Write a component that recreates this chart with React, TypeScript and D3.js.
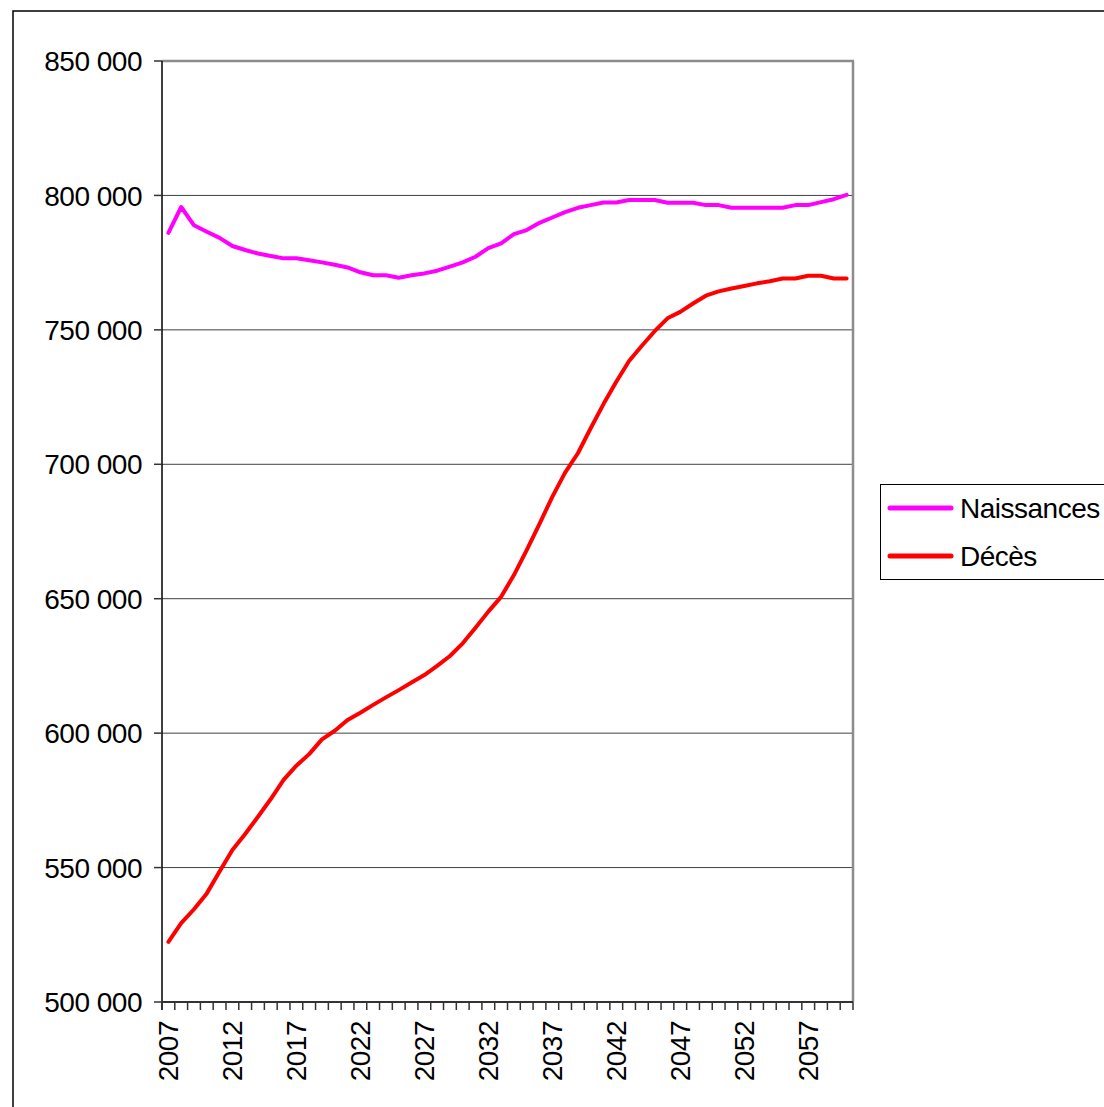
import React from "react";
import * as d3 from "d3";

// années 2007 → 2060
const years = d3.range(2007, 2061);

// Naissances (projection)
const naissances = [
  786100, 795700, 788900, 786500, 784200, 781200, 779700, 778400, 777500, 776600,
  776600, 775900, 775100, 774200, 773200, 771400, 770300, 770300, 769400, 770300,
  771000, 772000, 773500, 775100, 777200, 780400, 782200, 785600, 787100, 789800,
  791800, 793800, 795400, 796400, 797400, 797400, 798300, 798300, 798300, 797300,
  797300, 797300, 796400, 796400, 795400, 795400, 795400, 795400, 795400, 796400,
  796400, 797500, 798600, 800200,
];

// Décès (projection)
const deces = [
  522400, 529300, 534500, 540400, 548500, 556500, 562500, 568900, 575500, 582600,
  587900, 592200, 597700, 600900, 604900, 607600, 610500, 613300, 616000, 618800,
  621600, 625000, 628700, 633400, 639200, 645200, 650700, 658800, 668100, 677800,
  687900, 696900, 704100, 713400, 722400, 730700, 738400, 744100, 749500, 754300,
  756700, 759800, 762700, 764300, 765400, 766300, 767300, 768100, 769100, 769100,
  770100, 770100, 769100, 769100,
];

const yTicks = d3.range(500000, 850001, 50000);
const labelYears = years.filter((y) => (y - 2007) % 5 === 0);

const series = [
  { name: "Naissances", values: naissances, color: "#FF00FF" },
  { name: "Décès", values: deces, color: "#FF0000" },
];

const fmt = d3
  .formatLocale({ decimal: ",", thousands: " ", grouping: [3], currency: ["", " €"] })
  .format(",");

const W = 1104;
const H = 1107;
const plot = { left: 162, right: 853, top: 61, bottom: 1002 };
const font = "'Liberation Sans', Arial, sans-serif";

export default function App() {
  const x = d3
    .scaleBand<number>()
    .domain(years)
    .range([plot.left, plot.right])
    .padding(0);
  const y = d3
    .scaleLinear()
    .domain([500000, 850000])
    .range([plot.bottom, plot.top]);

  const cx = (yr: number) => (x(yr) as number) + x.bandwidth() / 2;

  const line = d3
    .line<number>()
    .x((_, i) => cx(years[i]))
    .y((d) => y(d));

  const boundaries = years.map((yr) => x(yr) as number).concat(plot.right);

  return (
    <svg
      width={W}
      height={H}
      style={{ position: "absolute", left: 0, top: 0, background: "#fff" }}
      fontFamily={font}
    >
      {/* cadre extérieur */}
      <rect x={13} y={11} width={W} height={H} fill="none" stroke="#000" strokeWidth={1.5} />

      {/* grille horizontale */}
      {yTicks.slice(1, -1).map((t) => (
        <line key={t} x1={plot.left} x2={plot.right} y1={y(t)} y2={y(t)} stroke="#404040" strokeWidth={1} />
      ))}

      {/* bordure du tracé */}
      <line x1={plot.left} x2={plot.right + 1} y1={plot.top} y2={plot.top} stroke="#8c8c8c" strokeWidth={2.5} />
      <line x1={plot.right} x2={plot.right} y1={plot.top} y2={plot.bottom} stroke="#8c8c8c" strokeWidth={2.5} />

      {/* axe Y */}
      <line x1={plot.left} x2={plot.left} y1={plot.top} y2={plot.bottom + 8} stroke="#000" strokeWidth={1.5} />
      {yTicks.map((t) => (
        <g key={t}>
          <line x1={plot.left - 8} x2={plot.left} y1={y(t)} y2={y(t)} stroke="#333" strokeWidth={1.5} />
          <text
            x={142}
            y={y(t)}
            dy="0.36em"
            textAnchor="end"
            fontSize={28}
            letterSpacing={-0.5}
            fill="#000"
          >
            {fmt(t)}
          </text>
        </g>
      ))}

      {/* axe X */}
      <line x1={plot.left} x2={plot.right} y1={plot.bottom} y2={plot.bottom} stroke="#333" strokeWidth={2} />
      {boundaries.map((bx, i) => (
        <line key={i} x1={bx} x2={bx} y1={plot.bottom} y2={plot.bottom + 8} stroke="#333" strokeWidth={1.5} />
      ))}
      {labelYears.map((yr) => (
        <text
          key={yr}
          transform={`translate(${cx(yr)},1021) rotate(-90)`}
          dy="0.36em"
          textAnchor="end"
          fontSize={28}
          letterSpacing={-0.5}
          fill="#000"
        >
          {yr}
        </text>
      ))}

      {/* séries */}
      {series.map((s) => (
        <path
          key={s.name}
          d={line(s.values) as string}
          fill="none"
          stroke={s.color}
          strokeWidth={4}
          strokeLinejoin="round"
          strokeLinecap="round"
        />
      ))}

      {/* légende */}
      <rect x={880.5} y={484.5} width={240} height={95} fill="#fff" stroke="#000" strokeWidth={1} />
      {series.map((s, i) => (
        <g key={s.name} transform={`translate(0,${508 + i * 48})`}>
          <line x1={890} x2={951} y1={0} y2={0} stroke={s.color} strokeWidth={5} strokeLinecap="round" />
          <text x={960} y={0} dy="0.36em" fontSize={28} letterSpacing={-0.5} fill="#000">
            {s.name}
          </text>
        </g>
      ))}
    </svg>
  );
}
